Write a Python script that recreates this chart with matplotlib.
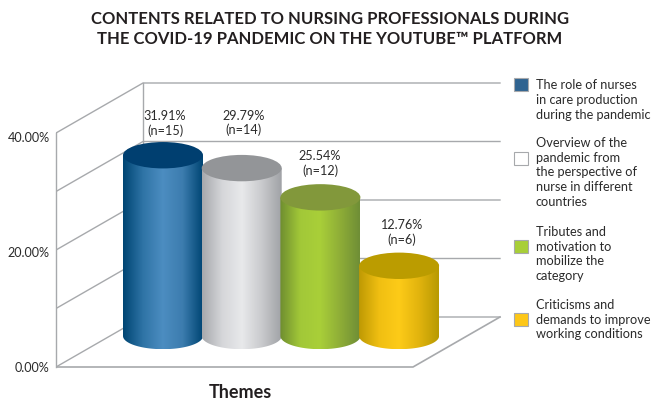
import matplotlib
matplotlib.use('Agg')
import matplotlib.pyplot as plt
import numpy as np
from matplotlib.colors import LinearSegmentedColormap
from matplotlib.patches import Ellipse, Polygon, Rectangle

plt.rcParams['font.family'] = ['Lato', 'DejaVu Sans']

title = 'CONTENTS RELATED TO NURSING PROFESSIONALS DURING\nTHE COVID-19 PANDEMIC ON THE YOUTUBE™ PLATFORM'
themes = ['The role of nurses\nin care production\nduring the pandemic',
          'Overview of the\npandemic from\nthe perspective of\nnurse in different\ncountries',
          'Tributes and\nmotivation to\nmobilize the\ncategory',
          'Criticisms and\ndemands to improve\nworking conditions']
pct_labels = ['31.91%', '29.79%', '25.54%', '12.76%']
n_labels = ['(n=15)', '(n=14)', '(n=12)', '(n=6)']
# height the picture really draws (it is not quite the labelled value)
drawn_pct = [30.9, 28.7, 23.7, 12.0]
# tick labels sit a little below the front wall lines in the picture
y_ticks = [0, 19.7, 39.3]
y_tick_labels = ['0.00%', '20.00%', '40.00%']
grid_vals = [0, 10, 20, 30, 40]

# gradient stops left to right, then top face, then legend swatch
body_colors = [['#004674', '#2f74a6', '#4c8dc1', '#3c7cae', '#004674'],
               ['#a7a9ad', '#d5d6d9', '#e8e9eb', '#c9cacd', '#a0a2a6'],
               ['#6f8e30', '#a2c838', '#a9cf39', '#8fae37', '#6f8e36'],
               ['#bf9a04', '#f0bf12', '#fdcb18', '#e2b40e', '#b89a02']]
top_colors = ['#003f70', '#939598', '#82983b', '#bb9c00']
swatch_colors = ['#2f6390', '#ffffff', '#a8cf38', '#fdc717']
swatch_y = [78, 152, 240, 313]
legend_text_y = [100, 172.5, 254, 319.5]
label_x = [165, 244, 320, 402]
label_gap = [32, 45, 34, 33]

grey = '#a7a9ac'
txt = '#2b2b2b'
w, h = 654, 401
px_per_pct = 5.85  # vertical px for one percent
front_x, back_x, right_x, floor_x = 56, 143, 500, 413
depth = 50 / px_per_pct
base = 31 / px_per_pct  # cylinder base centre above the front floor edge
ry = 13.2 / px_per_pct  # ellipse half height
rx = 40
first_x, step = 163, 78.7


def py(y_px):
    return (367 - y_px) / px_per_pct


fig = plt.figure(figsize=(w / 100, h / 100), dpi=100)
ax = fig.add_axes([front_x / w, 0, 1 - front_x / w, 1])
ax.set_xlim(front_x, w)
ax.set_ylim(py(h), py(0))
ax.patch.set_alpha(0)

for s in ['top', 'right', 'bottom']:
    ax.spines[s].set_visible(False)
ax.spines['left'].set_bounds(0, 40)
ax.spines['left'].set_color(grey)
ax.spines['left'].set_linewidth(1)
ax.set_xticks([])
ax.set_yticks(y_ticks)
ax.set_yticklabels(y_tick_labels, fontsize=9.1, color=txt, va='center_baseline')
ax.tick_params(axis='y', length=0, pad=4.5)

# walls and floor
for v in grid_vals:
    ax.plot([front_x, back_x, right_x], [v, v + depth, v + depth], color=grey, lw=1, zorder=1)
ax.plot([back_x, back_x], [depth, 40 + depth], color=grey, lw=1, zorder=1)
ax.plot([front_x, floor_x, right_x], [0, 0, depth], color=grey, lw=1.2, zorder=1)

# cylinders
t = np.linspace(0, np.pi, 60)
for i, val in enumerate(drawn_pct):
    cx = first_x + i * step
    top = base + val
    xs = np.concatenate([[cx - rx], cx - rx * np.cos(t), [cx + rx]])
    ys = np.concatenate([[top], base - ry * np.sin(t), [top]])
    cmap = LinearSegmentedColormap.from_list(f'c{i}', body_colors[i])
    z = 3 + i
    im = ax.imshow(np.linspace(0, 1, 160)[None, :], cmap=cmap, aspect='auto', zorder=z,
                   extent=[cx - rx, cx + rx, base - ry, top], interpolation='bilinear')
    clip = Polygon(np.column_stack([xs, ys]), closed=True, transform=ax.transData)
    im.set_clip_path(clip)
    ax.add_patch(Ellipse((cx, top), 2 * rx, 2 * ry, facecolor=top_colors[i], edgecolor='none', zorder=z + 0.5))
    label_y = py(367 - (top * px_per_pct) - label_gap[i])
    ax.text(label_x[i], label_y, pct_labels[i] + '\n' + n_labels[i], ha='center', va='center',
            fontsize=9.1, color=txt, linespacing=1.2, zorder=10)
ax.set_xlim(front_x, w)
ax.set_ylim(py(h), py(0))

fig.text(330 / w, 1 - 29 / h, title, ha='center', va='center', fontsize=12, fontweight='bold',
         color='#231f20', linespacing=1.36)
fig.text(240.5 / w, 1 - 393 / h, 'Themes', ha='center', va='center', fontsize=13, fontweight='bold', color='#231f20')

# legend
for theme, col, sy, ty in zip(themes, swatch_colors, swatch_y, legend_text_y):
    fig.add_artist(Rectangle((514 / w, 1 - (sy + 13) / h), 14 / w, 13 / h, transform=fig.transFigure,
                             facecolor=col, edgecolor=grey, lw=0.8))
    fig.text(535.5 / w, 1 - ty / h, theme, ha='left', va='center', fontsize=9.2, color=txt, linespacing=1.28)

fig.savefig('out.png', dpi=100)
